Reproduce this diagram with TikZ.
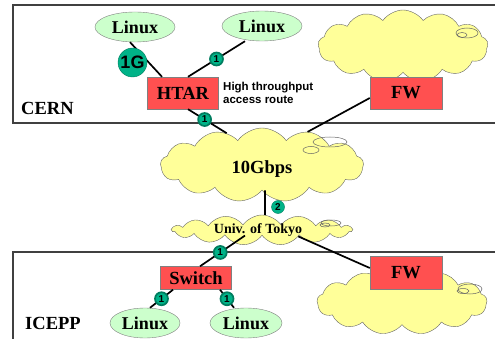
\documentclass[tikz,border=0pt]{standalone}
\usepackage{fontspec}
\setmainfont{Liberation Serif}
\newfontfamily\arialb[Scale=1]{Liberation Sans}
\usetikzlibrary{shapes.symbols,shapes.geometric}
\definecolor{lgreen}{HTML}{CCFFCC}
\definecolor{boxred}{HTML}{FF5050}
\definecolor{cloudy}{HTML}{FFFF99}
\definecolor{teal1}{HTML}{00B388}
\definecolor{edgegray}{HTML}{808080}
\definecolor{frame}{HTML}{404040}
\tikzset{
  frameline/.style={draw=frame, line width=1.4pt},
  linuxnode/.style={ellipse, draw=edgegray, fill=lgreen, minimum width=80pt, minimum height=30pt, inner sep=0pt, font=\fontsize{18}{18}\selectfont\bfseries},
  redbox/.style={rectangle, draw=edgegray, fill=boxred, inner sep=0pt, font=\fontsize{18.5}{18.5}\selectfont\bfseries},
  cloudnode/.style={cloud, cloud puffs=13, cloud puff arc=110, cloud ignores aspect, draw=edgegray!80!black, fill=cloudy, inner sep=0pt},
  swirl/.style={draw=edgegray!80!black, line width=0.5pt},
  link/.style={draw=black, line width=1.7pt},
  badge/.style={circle, draw=teal1!70!black, fill=teal1, minimum size=13pt, inner sep=0pt, font=\arialb\fontsize{10}{10}\selectfont\bfseries},
  bigbadge/.style={circle, draw=teal1!70!black, fill=teal1, minimum size=29pt, inner sep=0pt, font=\arialb\fontsize{18}{18}\selectfont\bfseries},
  sitelabel/.style={font=\fontsize{18.5}{18.5}\selectfont\bfseries, inner sep=0pt},
}
\begin{document}
\begin{tikzpicture}[x=1pt, y=-1pt]
\useasboundingbox (0,0) rectangle (495,339);
% frames
\draw[frameline] (495,5) -- (13,5) -- (13,123) -- (495,123);
\draw[frameline] (495,252) -- (13,252) -- (13,340);
% clouds
\node[cloudnode, minimum width=170pt, minimum height=72pt] (cloudc) at (403,46) {};
\draw[swirl] (467,33) ellipse [x radius=11pt, y radius=5pt];
\draw[swirl] (462,35) ellipse [x radius=5pt, y radius=2.5pt];
\node[cloudnode, minimum width=203pt, minimum height=74pt] (tengb) at (262,165) {};
\node[font=\fontsize{18.5}{18.5}\selectfont\bfseries] (tengbt) at (262,169) {10Gbps};
\draw[swirl] (330,142) ellipse [x radius=17pt, y radius=5pt];
\draw[swirl] (311,150) ellipse [x radius=8pt, y radius=3.5pt];
\node[cloudnode, cloud puffs=15, minimum width=180pt, minimum height=30pt] (univ) at (262,230) {};
\node[font=\fontsize{14}{14}\selectfont\bfseries] (univt) at (258,230) {Univ. of Tokyo};
\draw[swirl] (331,223) ellipse [x radius=10pt, y radius=3pt];
\draw[swirl] (325,225) ellipse [x radius=5pt, y radius=2pt];
\node[cloudnode, minimum width=170pt, minimum height=65pt] (cloudi) at (402,302) {};
\draw[swirl] (470,289) ellipse [x radius=12pt, y radius=5pt];
\draw[swirl] (463,291) ellipse [x radius=6pt, y radius=2.5pt];
% nodes
\node[linuxnode] (l1) at (135,27) {Linux};
\node[linuxnode] (l2) at (262,26) {Linux};
\node[redbox, minimum width=71pt, minimum height=32pt] (htar) at (183,93) {HTAR};
\node[redbox, minimum width=72pt, minimum height=32pt] (fw1) at (406,93) {FW};
\node[redbox, minimum width=71pt, minimum height=23pt] (sw) at (196,278) {Switch};
\node[redbox, minimum width=72pt, minimum height=33pt] (fw2) at (406,273) {FW};
\node[linuxnode, minimum width=70pt] (l3) at (145,323) {Linux};
\node[linuxnode, minimum width=72pt] (l4) at (246,323) {Linux};
\node[sitelabel, anchor=west] (cern) at (21,108) {CERN};
\node[sitelabel, anchor=west] (icepp) at (25,323) {ICEPP};
\node[font=\arialb\fontsize{11.5}{13}\selectfont\bfseries, align=left, anchor=west, inner sep=0pt] (hta) at (223,93) {High throughput\\access route};
% connectors
\draw[link] ([xshift=-5pt]l1.south) -- ([xshift=-21pt]htar.north);
\draw[link] ([xshift=-17pt]l2.south) -- ([xshift=5pt]htar.north) node[badge, pos=0.5] (b1) {1};
\draw[link] ([xshift=5pt]htar.south) -- (tengb.138) node[badge, pos=0.43] (b2) {1};
\draw[link] ([yshift=-5pt]fw1.west) -- (tengb.36);
\draw[link] ([xshift=3pt]tengb.south) -- ([xshift=3pt]univ.north);
\draw[link] ([xshift=-17pt]univ.south) -- ([xshift=4pt]sw.north) node[badge, pos=0.55] (b4) {1};
\draw[link] (univ.-10) -- ([yshift=5pt]fw2.west);
\draw[link] ([xshift=-23pt]sw.south) -- ([xshift=5pt]l3.north) node[badge, pos=0.5] (b5) {1};
\draw[link] ([xshift=24pt]sw.south) -- ([xshift=-12pt]l4.north) node[badge, pos=0.5] (b6) {1};
\node[badge] (b3) at (278,207) {2};
\node[bigbadge] (b1g) at (132.5,62.5) {1G};
\end{tikzpicture}
\end{document}
